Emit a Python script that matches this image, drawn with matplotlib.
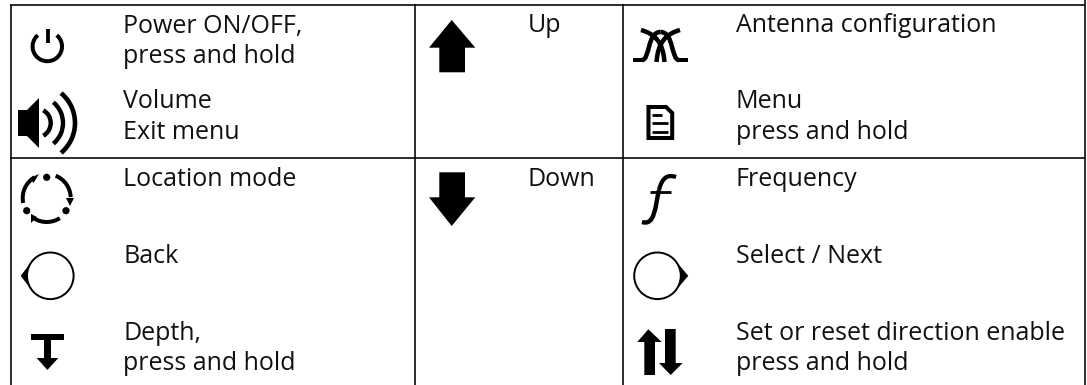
import matplotlib
matplotlib.use("Agg")
import numpy as np
import matplotlib.pyplot as plt
from matplotlib.patches import Arc, Circle, Polygon, Rectangle, PathPatch
from matplotlib.path import Path

WIDTH = 1087
HEIGHT = 385

left_labels = ["Power ON/OFF,\npress and hold", "Volume\nExit menu", "Location mode", "Back",
               "Depth,\npress and hold"]
left_baselines = [32.5, 108.5, 186, 263, 339.5]
mid_labels = ["Up", "Down"]
mid_baselines = [32.5, 186]
right_labels = ["Antenna configuration", "Menu\npress and hold", "Frequency", "Select / Next",
                "Set or reset direction enable\npress and hold"]
right_baselines = [32.5, 108.5, 186, 263, 339.5]

plt.rcParams['font.family'] = ['Open Sans', 'DejaVu Sans']
FS = 18

fig = plt.figure(figsize=(WIDTH / 100, HEIGHT / 100), dpi=100)
ax = fig.add_axes([0, 0, 1, 1])
ax.set_xlim(0, WIDTH)
ax.set_ylim(HEIGHT, 0)
ax.axis("off")


def put_labels(x, labels, baselines):
    for lab, y in zip(labels, baselines):
        for i, row in enumerate(lab.split("\n")):
            ax.text(x, y + i * 30.5, row, fontsize=FS, va="baseline", ha="left", color="#111111")


def line(xs, ys, lw=2.0):
    ax.plot(xs, ys, color="black", lw=lw * 0.72, solid_capstyle="butt")


def poly(pts):
    ax.add_patch(Polygon(pts, closed=True, fc="black", ec="none"))


def arc(cx, cy, r, t1, t2, lw):
    # angles measured on screen, y axis is inverted
    ax.add_patch(Arc((cx, cy), 2 * r, 2 * r, theta1=t1, theta2=t2, color="black", lw=lw * 0.72))


def curve(verts, lw):
    codes = [Path.MOVETO] + [Path.CURVE4] * (len(verts) - 1)
    ax.add_patch(PathPatch(Path(verts, codes), fc="none", ec="black", lw=lw * 0.72, capstyle="butt"))


# table rules
line([10.7, 10.7], [5, HEIGHT], 1.6)
line([415.4, 415.4], [4, HEIGHT], 1.6)
line([623.4, 623.4], [4, HEIGHT], 1.6)
line([1085, 1085], [0, HEIGHT], 1.6)
line([10, 1085], [5.4, 5.4], 1.6)
line([10, 1085], [158.4, 158.4], 1.6)

put_labels(123, left_labels, left_baselines)
put_labels(528, mid_labels, mid_baselines)
put_labels(736, right_labels, right_baselines)

# power
arc(47.3, 46.5, 14.7, -50, 230, 4)
line([47.5, 47.5], [29, 43], 3.8)

# speaker
ax.add_patch(Rectangle((18, 110), 9, 26, fc="black", ec="none"))
poly([(27, 110), (39, 98), (39, 148), (27, 136)])
arc(36, 123, 14.7, -60, 60, 4.4)
arc(36, 123, 27, -50, 50, 4.4)
arc(36, 123, 39, -50, 50, 4.6)

# location mode
arc(46.7, 198, 24, 168, 240, 4)
arc(46.7, 198, 24, 292, 358, 4)
arc(46.7, 198, 24, 57, 122, 4)
for cx, cy in [(46.7, 177.3), (26.7, 210.7), (66, 210.7)]:
    ax.add_patch(Circle((cx, cy), 3.6, fc="black", ec="none"))
poly([(66, 198), (74, 198), (70, 206)])
poly([(39, 174), (33.5, 183), (30, 178)])
poly([(31, 214), (31, 223), (37, 217)])

# back and select
for cx, tip in [(50.3, 20.7), (657.5, 688.3)]:
    ang = np.arccos(23.5 / abs(cx - tip))
    d = 1 if tip > cx else -1
    tx = cx + d * 23.5 * np.cos(ang)
    ty = 23.5 * np.sin(ang)
    poly([(tip, 275.8), (tx, 275.8 - ty), (tx, 275.8 + ty)])
    ax.add_patch(Circle((cx, 275.8), 23.3, fc="white", ec="black", lw=1.4, zorder=3))

# depth
ax.add_patch(Rectangle((30.7, 334), 33.3, 5.5, fc="black", ec="none"))
ax.add_patch(Rectangle((44, 339), 6.7, 21, fc="black", ec="none"))
poly([(36.7, 358), (58.3, 358), (47.4, 370)])

# up and down
poly([(451.7, 20), (475.3, 47.7), (465, 47.7), (465, 72.3), (439.3, 72.3), (439.3, 47.7), (429, 47.7)])
poly([(451.7, 226), (475.3, 197.3), (465, 197.3), (465, 172.3), (439.3, 172.3), (439.3, 197.3), (429, 197.3)])

# antenna
line([633, 643], [59.5, 59.5], 4)
line([678, 688], [59.5, 59.5], 4)
curve([(642, 60), (650, 60), (647, 32), (660.5, 32)], 4.5)
curve([(679, 60), (671, 60), (674, 32), (660.5, 32)], 4.5)
curve([(641, 30), (655, 34), (663, 42), (664.5, 62)], 4.5)
curve([(680, 30), (666, 34), (658, 42), (656.5, 62)], 4.5)

# menu
ax.add_patch(Polygon([(648.5, 107), (666, 107), (672.2, 113), (672.2, 138), (648.5, 138)],
                     closed=True, fc="none", ec="black", lw=2.9))
line([651.7, 662], [115, 115], 2.8)
line([651.7, 668.3], [123.3, 123.3], 2.8)
line([651.7, 668.3], [131.7, 131.7], 2.8)

# frequency
curve([(676, 177), (667, 174), (662, 178), (659, 190)], 4.2)
curve([(659, 190), (655, 207), (655, 226), (642, 222)], 4.4)
line([650, 670.7], [191.7, 191.7], 2.8)

# direction arrows
poly([(648.3, 329.3), (661.7, 342), (655, 342), (655, 375), (644.3, 375), (644.3, 342), (637.3, 342)])
poly([(670.7, 375), (682.7, 363), (675.7, 363), (675.7, 329), (665, 329), (665, 363), (659, 363)])

fig.savefig("out.png", dpi=100)
